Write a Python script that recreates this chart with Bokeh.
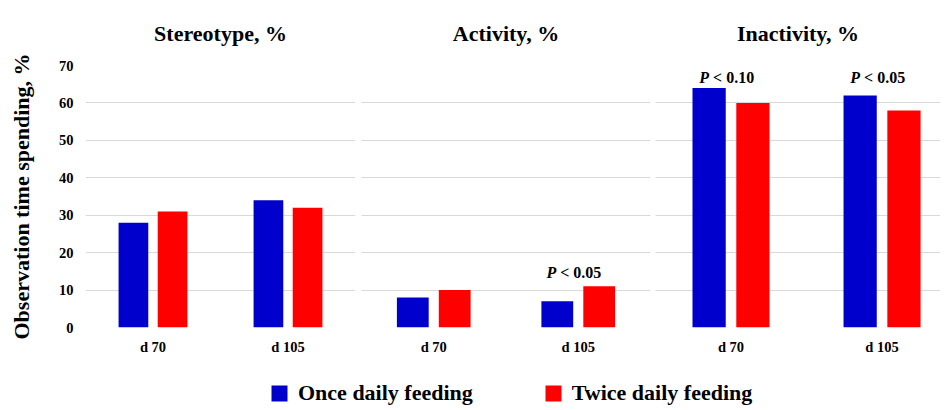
from bokeh.plotting import figure
from bokeh.models import Range1d, FixedTicker, Grid, Legend, LegendItem, ColumnDataSource
from bokeh.layouts import row, column
from bokeh.embed import file_html
from bokeh.resources import INLINE
from bokeh.core.properties import value

# ---- data ----
days = ["d 70", "d 105"]
panel_titles = ["Stereotype, %", "Activity, %", "Inactivity, %"]
stereotype_once = [28, 34]
stereotype_twice = [31, 32]
activity_once = [8, 7]
activity_twice = [10, 11]
inactivity_once = [64, 62]
inactivity_twice = [60, 58]
y_ticks = [0, 10, 20, 30, 40, 50, 60, 70]
series_labels = ["Once daily feeding", "Twice daily feeding"]
# significance notes: (day index, text, y value)
stereotype_notes = []
activity_notes = [(1, "< 0.05", 14.8)]
inactivity_notes = [(0, "< 0.10", 66.7), (1, "< 0.05", 66.7)]

BLUE = "#0000CC"
RED = "#FF0000"
GRID = "#d9d9d9"
FONT = "Liberation Serif"
BAR_W = 0.22
OFF = 0.145


def make_panel(title, once_vals, twice_vals, notes, width, bl, br, x_end, show_y):
    p = figure(width=width, height=360, x_range=Range1d(-0.5, x_end), y_range=Range1d(0, 70),
               output_backend="svg", toolbar_location=None,
               min_border_left=bl, min_border_right=br, min_border_top=65, min_border_bottom=33,
               y_axis_location="left" if show_y else None)
    p.outline_line_color = None
    p.background_fill_color = "white"
    p.border_fill_color = "white"
    p.title.text = title
    p.title.align = "center"
    p.title.vertical_align = "top"
    p.title.text_font = FONT
    p.title.text_font_size = "22px"
    p.title.text_font_style = "bold"
    p.title.text_color = "black"
    p.title.standoff = 36

    idx = list(range(len(days)))
    src = ColumnDataSource(dict(
        x_once=[i - OFF for i in idx], x_twice=[i + OFF for i in idx],
        once=once_vals, twice=twice_vals))
    p.vbar(x="x_once", top="once", width=BAR_W, source=src, fill_color=BLUE, line_color=None)
    p.vbar(x="x_twice", top="twice", width=BAR_W, source=src, fill_color=RED, line_color=None)

    # x axis
    p.xaxis.ticker = FixedTicker(ticks=idx)
    p.xaxis.major_label_overrides = {i: d for i, d in zip(idx, days)}
    p.xaxis.axis_line_color = None
    p.xaxis.major_tick_line_color = None
    p.xaxis.minor_tick_line_color = None
    p.xaxis.major_tick_out = 0
    p.xaxis.major_tick_in = 0
    p.xaxis.major_label_standoff = 11
    p.xaxis.major_label_text_font = FONT
    p.xaxis.major_label_text_font_size = "14.5px"
    p.xaxis.major_label_text_font_style = "bold"
    p.xaxis.major_label_text_color = "black"
    p.xgrid.visible = False

    if show_y:
        p.yaxis.ticker = FixedTicker(ticks=y_ticks)
        p.yaxis.axis_line_color = None
        p.yaxis.major_tick_line_color = None
        p.yaxis.minor_tick_line_color = None
        p.yaxis.major_tick_out = 0
        p.yaxis.major_tick_in = 0
        p.yaxis.major_label_standoff = 12
        p.yaxis.major_label_text_font = FONT
        p.yaxis.major_label_text_font_size = "14.5px"
        p.yaxis.major_label_text_font_style = "bold"
        p.yaxis.major_label_text_color = "black"
        p.yaxis.axis_label = "Observation time spending, %"
        p.yaxis.axis_label_text_font = FONT
        p.yaxis.axis_label_text_font_size = "22px"
        p.yaxis.axis_label_text_font_style = "bold"
        p.yaxis.axis_label_text_color = "black"
        p.yaxis.axis_label_standoff = 22
        p.ygrid.ticker = FixedTicker(ticks=y_ticks)
        p.ygrid.grid_line_color = GRID
    else:
        p.add_layout(Grid(dimension=1, ticker=FixedTicker(ticks=y_ticks), grid_line_color=GRID))

    if notes:
        nsrc = ColumnDataSource(dict(x=[n[0] for n in notes],
                                     y=[n[2] for n in notes], t=[n[1] for n in notes],
                                     P=["P"] * len(notes)))
        p.text(x="x", y="y", text="P", source=nsrc, x_offset=-22, text_align="right",
               text_baseline="middle", text_font=value(FONT), text_font_size="16px",
               text_font_style="bold italic", text_color="black")
        p.text(x="x", y="y", text="t", source=nsrc, x_offset=-18, text_align="left",
               text_baseline="middle", text_font=value(FONT), text_font_size="16px",
               text_font_style="bold", text_color="black")
    return p


p1 = make_panel(panel_titles[0], stereotype_once, stereotype_twice, stereotype_notes,
                358, 85, 3, 1.5, True)
p2 = make_panel(panel_titles[1], activity_once, activity_twice, activity_notes,
                294, 3, 2, 1.5, False)
p3 = make_panel(panel_titles[2], inactivity_once, inactivity_twice, inactivity_notes,
                288, 3, 0, 1.387, False)

# legend strip
leg = figure(width=940, height=46, x_range=Range1d(0, 1), y_range=Range1d(0, 1),
             output_backend="svg", toolbar_location=None, min_border=0,
             x_axis_location=None, y_axis_location=None)
leg.outline_line_color = None
leg.grid.visible = False
lr1 = leg.vbar(x=[5], top=[5], width=0.1, fill_color=BLUE, line_color=None)
lr2 = leg.vbar(x=[5], top=[5], width=0.1, fill_color=RED, line_color=None)
legend = Legend(items=[LegendItem(label=series_labels[0], renderers=[lr1]),
                       LegendItem(label=series_labels[1], renderers=[lr2])],
                orientation="horizontal", location=(269, 0),
                glyph_width=20, glyph_height=20, label_height=20, label_standoff=9,
                spacing=70, padding=0, margin=0, border_line_color=None,
                background_fill_alpha=0,
                label_text_font=FONT, label_text_font_size="22px",
                label_text_font_style="bold", label_text_color="black")
leg.add_layout(legend)

layout = column(row(p1, p2, p3), leg)
open("out.html", "w").write(file_html(layout, INLINE))
